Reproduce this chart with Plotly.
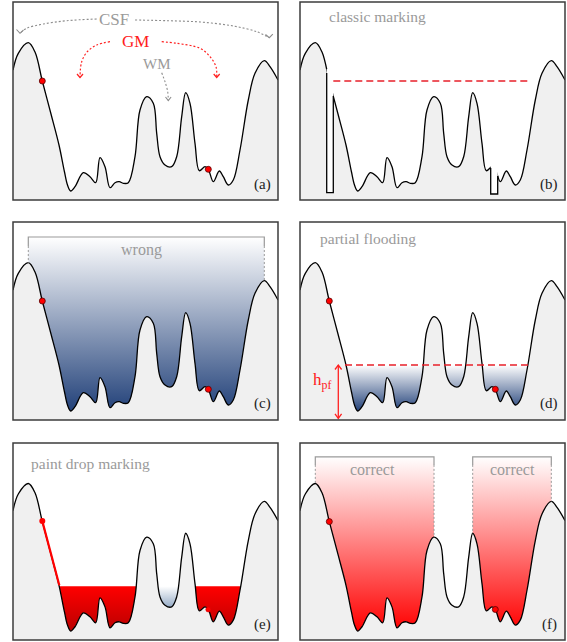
import plotly.graph_objects as go

# ---------------- data ----------------
# cortical profile (local panel units: x 0..265, height 0..198)
profile_x = [0, 5.3, 15.3, 22, 29.3, 38, 46, 51.5, 54.5, 57.7, 62, 70.3, 77, 82.7, 87, 92, 97,
             102, 106.3, 110.3, 115.3, 122, 127, 133.7, 140.3, 143.7, 147, 152, 158.7, 163.7,
             168.7, 172.7, 177, 182, 186.3, 192, 195.3, 200.3, 206.3, 210.3, 215.3, 220.3, 227,
             235.3, 242, 251.3, 257, 265]
profile_y = [130, 146.7, 157.3, 148, 119, 86, 55, 28, 15, 9, 13.3, 27.3, 23.3, 17.3, 42.3, 33.3,
             12.3, 17.3, 18.3, 16.7, 17.3, 43.3, 90, 103.3, 96.7, 66.7, 43.3, 35, 33.3, 43.3,
             83.3, 107.3, 96.7, 56.7, 29.3, 33.3, 30.7, 18.3, 29, 23.3, 15, 20, 50, 100, 126.7,
             139.3, 133.3, 120]

dot_x = [29.3, 195.3]
dot_y = [119, 30.7]

# (a) arrows
csf_left_x = [83.7, 53.7, 30.3, 13.7, 7]
csf_left_y = [181, 179.3, 176, 171.7, 166.7]
csf_left_head_x = [3.5, 7, 10.5]
csf_left_head_y = [170.5, 166.7, 170]
csf_right_x = [122, 153.7, 187, 220.3, 243.7, 256.3]
csf_right_y = [180, 179.3, 178, 174, 168.3, 162.3]
csf_right_head_x = [252.5, 256.3, 259.8]
csf_right_head_y = [165.5, 162.3, 165.8]
gm_left_x = [97, 83.7, 74.3, 68.7, 67]
gm_left_y = [158.3, 155, 148.3, 138.3, 122.5]
gm_left_head_x = [64, 67, 70]
gm_left_head_y = [126, 122.5, 126]
gm_right_x = [148.7, 163.7, 187, 197, 203, 203.7]
gm_right_y = [158.3, 156.7, 151.7, 143.3, 133.3, 122.5]
gm_right_head_x = [200.7, 203.7, 206.7]
gm_right_head_y = [126, 122.5, 126]
wm_x = [148.7, 152, 154.7, 155.3]
wm_y = [127.3, 118.3, 108.3, 99.5]
wm_head_x = [152.5, 155.3, 158.1]
wm_head_y = [103, 99.5, 103]

# (b) classic marking
notch1_x = [26.7, 26.7, 33.3, 33.3]
notch1_y = [127, 7.3, 7.3, 104]
notch2_x = [190.7, 190.7, 197.7, 197.7]
notch2_y = [32, 6, 6, 24]
classic_level = 119
classic_x = [33.3, 228]

# (c) wrong
wrong_x = [15.3, 251.3]
wrong_top = 183
wrong_tick = 174

# (d) partial flooding
flood_level = 55
flood_x = [45, 228]
hpf_x = 38.3
hpf_bottom = 1.7

# (e) paint drop
paint_level = 54
paint_red_left = [0, 138]
paint_blue_mid = [138, 170]
paint_red_right = [170, 265]
paint_line_x = [29.3, 46.3]
paint_line_y = [119.5, 55]

# (f) correct
correct_left = [15.3, 134]
correct_right = [172.7, 251.3]
correct_top = 184
correct_tick = 176

bottom_level = 9

# ---------------- layout ----------------
W, H = 567, 642
cols = [[13 / W, 278 / W], [300 / W, 565 / W]]
rows = [[1 - 200 / H, 1 - 2 / H], [1 - 420 / H, 1 - 222 / H], [1 - 640 / H, 1 - 443 / H]]

SERIF = "Liberation Serif, Times New Roman, serif"
GRAY_TXT = "#9a9a9a"
BLUE_CS = [[0, "#23427a"], [1, "#ffffff"]]

fig = go.Figure()
layout = dict(width=W, height=H, margin=dict(l=0, r=0, t=0, b=0),
              paper_bgcolor="white", plot_bgcolor="white", showlegend=False)
shapes = []
annotations = []

for i in range(6):
    r, c = divmod(i, 2)
    n = "" if i == 0 else str(i + 1)
    layout["xaxis" + n] = dict(domain=cols[c], range=[0, 265], visible=False,
                               fixedrange=True, anchor="y" + n)
    layout["yaxis" + n] = dict(domain=rows[r], range=[0, 198], visible=False,
                               fixedrange=True, anchor="x" + n)
    shapes.append(dict(type="rect", xref="x" + n + " domain", yref="y" + n + " domain",
                       x0=0, x1=1, y0=0, y1=1, line=dict(color="#3c3c3c", width=1.5),
                       layer="above"))


def ax(p):
    n = "" if p == 0 else str(p + 1)
    return "x" + n, "y" + n


def add(p, **kw):
    xa, ya = ax(p)
    kw.setdefault("mode", "lines")
    fig.add_trace(go.Scatter(xaxis=xa, yaxis=ya, hoverinfo="skip", showlegend=False, **kw))


def grad_rect(p, xr, top, cs, start, stop):
    add(p, x=xr, y=[top, top], line=dict(width=0), fill="tozeroy",
        fillgradient=dict(type="vertical", colorscale=cs, start=start, stop=stop))


def profile(p):
    add(p, x=profile_x, y=profile_y, fill="tozeroy", fillcolor="#f0f0f0",
        line=dict(color="black", width=1.3, shape="spline", smoothing=1))


def dots(p, xs=dot_x, ys=dot_y):
    add(p, x=xs, y=ys, mode="markers",
        marker=dict(size=6, color="#ff0000", line=dict(color="#5a0000", width=0.8)))


def text(p, s, x, y, size=16, color=GRAY_TXT, xanchor="center"):
    xa, ya = ax(p)
    annotations.append(dict(text=s, x=x, y=y, xref=xa, yref=ya, showarrow=False,
                            xanchor=xanchor, yanchor="middle",
                            font=dict(family=SERIF, size=size, color=color)))


def label(p, s):
    text(p, s, 249, 16, size=15, color="#222222")


# ---- (a)
profile(0)
dots(0)
for xs, ys in [(csf_left_x, csf_left_y), (csf_right_x, csf_right_y)]:
    add(0, x=xs, y=ys, line=dict(color="#8c8c8c", width=1.1, dash="2px,2px", shape="spline"))
for xs, ys in [(csf_left_head_x, csf_left_head_y), (csf_right_head_x, csf_right_head_y)]:
    add(0, x=xs, y=ys, line=dict(color="#8c8c8c", width=1.1))
for xs, ys in [(gm_left_x, gm_left_y), (gm_right_x, gm_right_y)]:
    add(0, x=xs, y=ys, line=dict(color="#ff2020", width=1.2, dash="2px,2px", shape="spline"))
for xs, ys in [(gm_left_head_x, gm_left_head_y), (gm_right_head_x, gm_right_head_y)]:
    add(0, x=xs, y=ys, line=dict(color="#ff2020", width=1.2))
add(0, x=wm_x, y=wm_y, line=dict(color="#8c8c8c", width=1.1, dash="2px,2px", shape="spline"))
add(0, x=wm_head_x, y=wm_head_y, line=dict(color="#8c8c8c", width=1.1))
text(0, "CSF", 100.5, 181, size=17)
text(0, "GM", 122, 158.3, size=17, color="#ff2020")
text(0, "WM", 144.3, 135.7, size=15)
label(0, "(a)")

# ---- (b)
profile(1)
for nx, ny in [(notch1_x, notch1_y), (notch2_x, notch2_y)]:
    add(1, x=[nx[0], nx[2], nx[2], nx[0]], y=[ny[1], ny[1], max(ny) + 4, max(ny) + 4],
        fill="toself", fillcolor="white", line=dict(width=0))
    add(1, x=nx, y=ny, line=dict(color="black", width=1.3))
add(1, x=classic_x, y=[classic_level, classic_level],
    line=dict(color="#e8202a", width=1.4, dash="7px,4px"))
text(1, "classic marking", 26.7, 183.3, size=15.5, xanchor="left")
label(1, "(b)")

# ---- (c)
grad_rect(2, wrong_x, wrong_top, BLUE_CS, bottom_level, wrong_top)
profile(2)
dots(2)
add(2, x=[wrong_x[0], wrong_x[0], wrong_x[1], wrong_x[1]],
    y=[wrong_tick, wrong_top, wrong_top, wrong_tick], line=dict(color="#9a9a9a", width=1.2))
add(2, x=[wrong_x[0], wrong_x[0]], y=[wrong_tick, 157.3],
    line=dict(color="#9a9a9a", width=1, dash="2px,2px"))
add(2, x=[wrong_x[1], wrong_x[1]], y=[wrong_tick, 139.3],
    line=dict(color="#9a9a9a", width=1, dash="2px,2px"))
text(2, "wrong", 128.7, 170)
label(2, "(c)")

# ---- (d)
grad_rect(3, [0, 265], flood_level, BLUE_CS, bottom_level, flood_level)
profile(3)
dots(3)
add(3, x=flood_x, y=[flood_level, flood_level],
    line=dict(color="#e8202a", width=1.4, dash="7px,4px"))
add(3, x=[hpf_x, hpf_x], y=[hpf_bottom, flood_level], line=dict(color="#ff2020", width=1.3))
add(3, x=[hpf_x - 3.3, hpf_x, hpf_x + 3.3], y=[flood_level - 4.5, flood_level, flood_level - 4.5],
    line=dict(color="#ff2020", width=1.3))
add(3, x=[hpf_x - 3.3, hpf_x, hpf_x + 3.3], y=[hpf_bottom + 4.5, hpf_bottom, hpf_bottom + 4.5],
    line=dict(color="#ff2020", width=1.3))
text(3, "h<sub>pf</sub>", 21.5, 38.5, size=17, color="#ff2020")
text(3, "partial flooding", 18.3, 181.7, size=15.5, xanchor="left")
label(3, "(d)")

# ---- (e)
RED_CS = [[0, "#bb0000"], [1, "#ff0000"]]
grad_rect(4, paint_red_left, paint_level, RED_CS, bottom_level, paint_level)
grad_rect(4, paint_blue_mid, paint_level, [[0, "#95abc6"], [1, "#ffffff"]], 33, paint_level)
grad_rect(4, paint_red_right, paint_level, RED_CS, bottom_level, paint_level)
profile(4)
add(4, x=paint_line_x, y=paint_line_y, line=dict(color="#ff0000", width=2.2))
add(4, x=[dot_x[0]], y=[paint_line_y[0]], mode="markers",
    marker=dict(size=6, color="#ff0000"))
add(4, x=[dot_x[1]], y=[dot_y[1]], mode="markers",
    marker=dict(size=5, color="#ff0000", line=dict(color="#dd0000", width=0.6)))
text(4, "paint drop marking", 16.3, 177.7, size=15.5, xanchor="left")
label(4, "(e)")

# ---- (f)
RED_W = [[0, "#ff0000"], [1, "#ffffff"]]
grad_rect(5, correct_left, correct_top, RED_W, bottom_level, correct_top)
grad_rect(5, correct_right, correct_top, RED_W, bottom_level, correct_top)
profile(5)
dots(5)
for xr, tops in [(correct_left, (157.3, 103.3)), (correct_right, (107.3, 139.3))]:
    add(5, x=[xr[0], xr[0], xr[1], xr[1]], y=[correct_tick, correct_top, correct_top, correct_tick],
        line=dict(color="#9a9a9a", width=1.2))
    for xx, tp in zip(xr, tops):
        add(5, x=[xx, xx], y=[correct_tick, tp], line=dict(color="#9a9a9a", width=1, dash="2px,2px"))
text(5, "correct", 72, 171.7)
text(5, "correct", 212, 171.7)
label(5, "(f)")

layout["shapes"] = shapes
layout["annotations"] = annotations
fig.update_layout(**layout)
fig.write_html("out.html", config={"displayModeBar": False},
               post_script="document.body.style.margin='0';document.body.style.overflow='hidden';")
